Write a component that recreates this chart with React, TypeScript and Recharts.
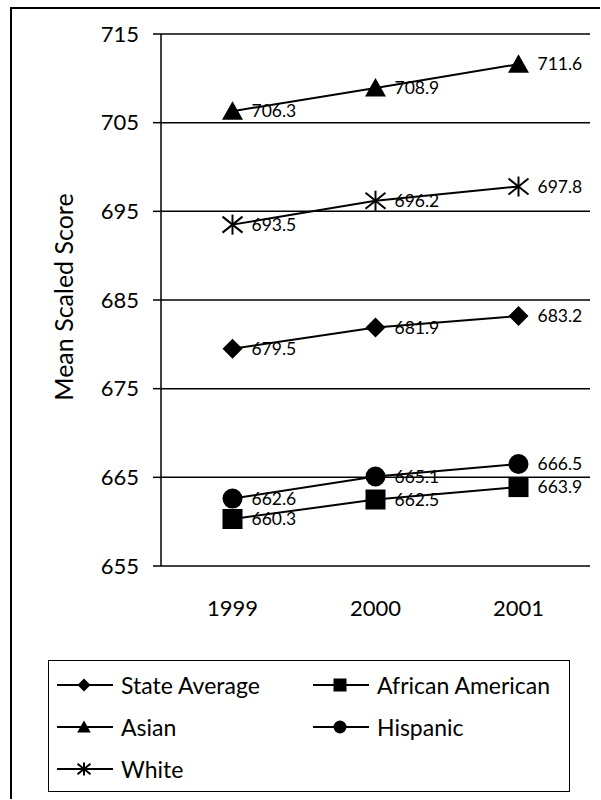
import React from "react";
import {
  LineChart,
  Line,
  XAxis,
  YAxis,
  CartesianGrid,
  ReferenceLine,
  LabelList,
} from "recharts";

const years = ["1999", "2000", "2001"];
const stateAverage = [679.5, 681.9, 683.2];
const africanAmerican = [660.3, 662.5, 663.9];
const asian = [706.3, 708.9, 711.6];
const hispanic = [662.6, 665.1, 666.5];
const white = [693.5, 696.2, 697.8];
const yTicks = [655, 665, 675, 685, 695, 705, 715];

type Kind = "diamond" | "square" | "triangle" | "circle" | "star";

const series: { key: string; name: string; kind: Kind; values: number[] }[] = [
  { key: "state", name: "State Average", kind: "diamond", values: stateAverage },
  { key: "african", name: "African American", kind: "square", values: africanAmerican },
  { key: "asian", name: "Asian", kind: "triangle", values: asian },
  { key: "hispanic", name: "Hispanic", kind: "circle", values: hispanic },
  { key: "white", name: "White", kind: "star", values: white },
];

const data = years.map((year, i) => {
  const row: any = { year };
  series.forEach((s) => (row[s.key] = s.values[i]));
  return row;
});

function Marker({ kind, cx, cy, s }: { kind: Kind; cx: number; cy: number; s: number }) {
  const h = s / 2;
  switch (kind) {
    case "diamond":
      return (
        <polygon
          points={`${cx},${cy - h} ${cx + h},${cy} ${cx},${cy + h} ${cx - h},${cy}`}
          fill="#000"
        />
      );
    case "square":
      return <rect x={cx - h} y={cy - h} width={s} height={s} fill="#000" />;
    case "triangle":
      return (
        <polygon
          points={`${cx},${cy - h} ${cx + h * 1.05},${cy + h * 0.85} ${cx - h * 1.05},${cy + h * 0.85}`}
          fill="#000"
        />
      );
    case "circle":
      return <circle cx={cx} cy={cy} r={h} fill="#000" />;
    case "star":
      return (
        <g stroke="#000" strokeWidth={2}>
          <line x1={cx} y1={cy - h} x2={cx} y2={cy + h} />
          <line x1={cx - h} y1={cy - h * 0.8} x2={cx + h} y2={cy + h * 0.8} />
          <line x1={cx - h} y1={cy + h * 0.8} x2={cx + h} y2={cy - h * 0.8} />
        </g>
      );
  }
  return null;
}

const axisFont = { fontSize: 22, fill: "#000" };

function LegendBox() {
  const rows = [
    [series[0], series[1]],
    [series[2], series[3]],
    [series[4]],
  ];
  return (
    <div
      style={{
        position: "absolute",
        left: 36,
        top: 651,
        width: 522,
        height: 132,
        border: "1.5px solid #000",
        boxSizing: "border-box",
        paddingTop: 3,
      }}
    >
      {rows.map((row, ri) => (
        <div key={ri} style={{ display: "flex", height: 42, alignItems: "center" }}>
          {row.map((s, ci) => (
            <div
              key={s.key}
              style={{
                display: "flex",
                alignItems: "center",
                width: ci === 0 ? 256 : 250,
                marginLeft: ci === 0 ? 8 : 0,
              }}
            >
              <svg width={56} height={20}>
                <line x1={0} y1={10} x2={56} y2={10} stroke="#000" strokeWidth={2} />
                <Marker kind={s.kind} cx={27} cy={10} s={13} />
              </svg>
              <span style={{ fontSize: 23, marginLeft: 8, color: "#000" }}>{s.name}</span>
            </div>
          ))}
        </div>
      ))}
    </div>
  );
}

export default function App() {
  return (
    <div
      style={{
        position: "absolute",
        left: 10,
        top: 7,
        width: 590,
        height: 792,
        borderLeft: "2px solid #000",
        borderTop: "2px solid #000",
        boxSizing: "border-box",
        fontFamily: "Lato, sans-serif",
        background: "#fff",
      }}
    >
      <LineChart
        width={580}
        height={620}
        data={data}
        margin={{ top: 25, right: 2, bottom: 3, left: 0 }}
      >
        <CartesianGrid vertical={false} stroke="#000" strokeWidth={1.5} />
        <XAxis
          xAxisId={0}
          type="number"
          domain={[0, 3]}
          ticks={[0, 1, 2, 3]}
          tick={false}
          axisLine={false}
          tickLine={{ stroke: "#000", strokeWidth: 1.5 }}
          tickSize={7}
          height={0}
        />
        <XAxis
          xAxisId="cat"
          dataKey="year"
          padding={{ left: 71.5, right: 71.5 }}
          axisLine={false}
          tickLine={false}
          tickSize={0}
          tickMargin={34}
          tick={axisFont}
          height={60}
        />
        <YAxis
          type="number"
          domain={[655, 715]}
          ticks={yTicks}
          width={149}
          tickSize={8}
          tickMargin={14}
          tick={axisFont}
          axisLine={{ stroke: "#000", strokeWidth: 1.5 }}
          tickLine={{ stroke: "#000", strokeWidth: 1.5 }}
          label={{
            value: "Mean Scaled Score",
            angle: -90,
            position: "center",
            dx: -22,
            dy: -3,
            style: { fontSize: 25, fill: "#000" },
          }}
        />
        <ReferenceLine x={3} stroke="#000" strokeWidth={1.5} />
        {series.map((s) => (
          <Line
            key={s.key}
            xAxisId="cat"
            dataKey={s.key}
            name={s.name}
            type="linear"
            stroke="#000"
            strokeWidth={2}
            isAnimationActive={false}
            dot={(p: any) => (
              <Marker key={`${s.key}-${p.index}`} kind={s.kind} cx={p.cx} cy={p.cy} s={20} />
            )}
            activeDot={false}
          >
            <LabelList
              dataKey={s.key}
              position="right"
              offset={19}
              style={{ fontSize: 17.5, fill: "#000" }}
            />
          </Line>
        ))}
      </LineChart>
      <LegendBox />
    </div>
  );
}
